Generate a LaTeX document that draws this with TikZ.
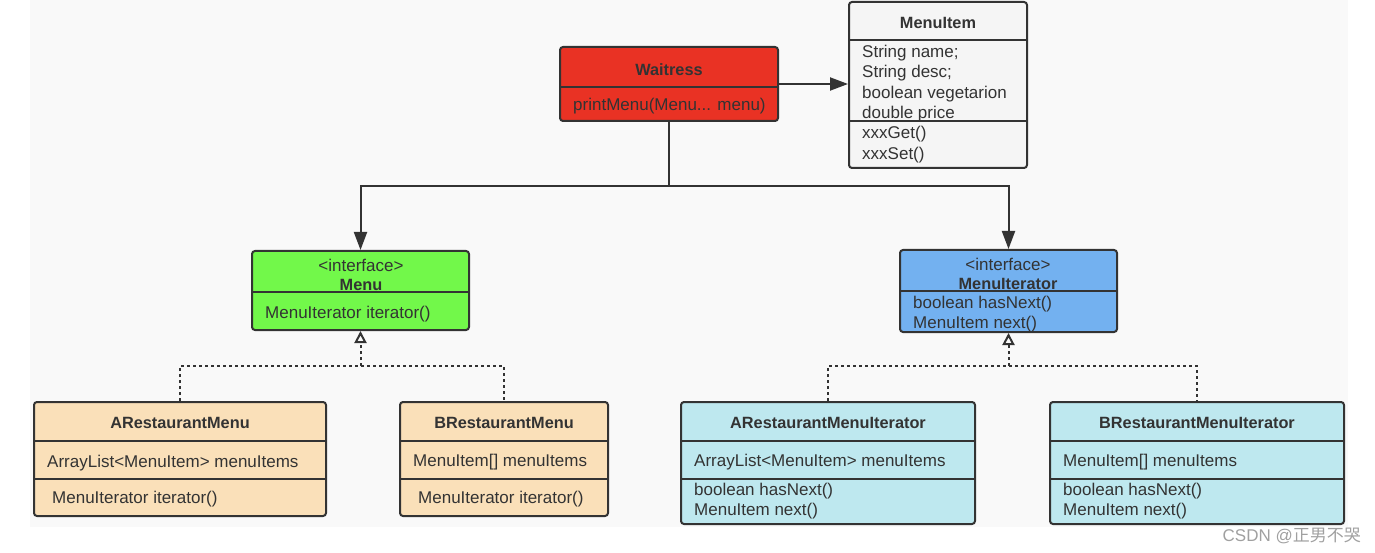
\documentclass[tikz,border=0pt]{standalone}
\usepackage{fontspec}
\setmainfont{Liberation Sans}
\newfontfamily\cjk{Noto Sans CJK SC}
\usetikzlibrary{arrows.meta}
\definecolor{bggray}{RGB}{249,249,249}
\definecolor{linegray}{RGB}{51,51,51}
\definecolor{txtgray}{RGB}{51,51,51}
\definecolor{wred}{RGB}{233,50,36}
\definecolor{mgreen}{RGB}{114,248,74}
\definecolor{iblue}{RGB}{115,177,240}
\definecolor{itgray}{RGB}{245,245,245}
\definecolor{peach}{RGB}{250,224,185}
\definecolor{cyanish}{RGB}{190,232,239}
\definecolor{wmgray}{RGB}{160,160,160}
\tikzset{>={Triangle[length=18pt,width=13pt]},font=\fontsize{17pt}{20pt}\selectfont,
  cls/.style={draw=linegray,line width=2pt,rounded corners=3pt,inner sep=0pt},
  ttl/.style={font=\fontsize{16.3pt}{19pt}\selectfont\bfseries,text=txtgray,inner sep=0pt},
  txt/.style={anchor=west,text=txtgray,inner sep=0pt},
  divider/.style={draw=linegray,line width=2pt},
  assoc/.style={draw=linegray,line width=2pt,->},
  realize/.style={draw=linegray,line width=2pt,dash pattern=on 3pt off 3pt}}

\begin{document}
\begin{tikzpicture}[x=1pt,y=-1pt]
\useasboundingbox (0,0) rectangle (1375,553);
\fill[bggray] (30,0) rectangle (1348,527);
% class boxes
\node[cls,fill=wred,minimum width=218pt,minimum height=74pt] (W) at (669,84) {};
\node[cls,fill=itgray,minimum width=178pt,minimum height=166pt] (MI) at (938,85) {};
\node[cls,fill=mgreen,minimum width=217pt,minimum height=79pt] (M) at (360.5,290.5) {};
\node[cls,fill=iblue,minimum width=217pt,minimum height=82pt] (IT) at (1008.5,291) {};
\node[cls,fill=peach,minimum width=292pt,minimum height=114pt] (AM) at (180,459) {};
\node[cls,fill=peach,minimum width=208pt,minimum height=114pt] (BM) at (504,459) {};
\node[cls,fill=cyanish,minimum width=294pt,minimum height=122pt] (AI) at (828,463) {};
\node[cls,fill=cyanish,minimum width=294pt,minimum height=122pt] (BI) at (1197,463) {};
% dividers
\draw[divider] (W.west |- 0,87) -- (W.east |- 0,87);
\draw[divider] (MI.west |- 0,40) -- (MI.east |- 0,40);
\draw[divider] (MI.west |- 0,121) -- (MI.east |- 0,121);
\draw[divider] (M.west |- 0,292) -- (M.east |- 0,292);
\draw[divider] (IT.west |- 0,291) -- (IT.east |- 0,291);
\foreach \b in {AM,BM,AI,BI} {
  \draw[divider] (\b.west |- 0,441) -- (\b.east |- 0,441);
  \draw[divider] (\b.west |- 0,479) -- (\b.east |- 0,479);
}
% texts
\node[ttl] (Wt) at (669,70) {Waitress};
\node[txt] (Wm) at (573,106) {printMenu(Menu... menu)};
\node[ttl] (MIt) at (938,23) {MenuItem};
\node[txt] (MIa) at (862,53) {String name;};
\node[txt] (MIb) at (862,73) {String desc;};
\node[txt] (MIc) at (862,94) {boolean vegetarion};
\node[txt] (MId) at (862,114) {double price};
\node[txt] (MIe) at (862,134) {xxxGet()};
\node[txt] (MIf) at (862,155) {xxxSet()};
\node[text=txtgray,inner sep=0pt] (Ms) at (361,265) {<interface>};
\node[ttl] (Mt) at (361,285) {Menu};
\node[txt] (Mm) at (265,314) {MenuIterator iterator()};
\node[text=txtgray,inner sep=0pt] (ITs) at (1008,264) {<interface>};
\node[ttl] (ITt) at (1008,284) {MenuIterator};
\node[txt] (ITa) at (913,304) {boolean hasNext()};
\node[txt] (ITb) at (913,324) {MenuItem next()};
\node[ttl] (AMt) at (180,423) {ARestaurantMenu};
\node[txt] (AMa) at (47,463) {ArrayList<MenuItem> menuItems};
\node[txt] (AMm) at (52,499) {MenuIterator iterator()};
\node[ttl] (BMt) at (504,423) {BRestaurantMenu};
\node[txt] (BMa) at (413,462) {MenuItem[] menuItems};
\node[txt] (BMm) at (418,499) {MenuIterator iterator()};
\node[ttl] (AIt) at (828,423) {ARestaurantMenuIterator};
\node[txt] (AIa) at (694,462) {ArrayList<MenuItem> menuItems};
\node[txt] (AIb) at (694,491) {boolean hasNext()};
\node[txt] (AIc) at (694,511) {MenuItem next()};
\node[ttl] (BIt) at (1197,423) {BRestaurantMenuIterator};
\node[txt] (BIa) at (1063,462) {MenuItem[] menuItems};
\node[txt] (BIb) at (1063,491) {boolean hasNext()};
\node[txt] (BIc) at (1063,511) {MenuItem next()};
% associations
\draw[assoc] (W.east) -- (W.east -| MI.west);
\coordinate (S) at (669,186);
\draw[divider] (W.south) -- (S);
\draw[assoc] (S) -| (M.north);
\draw[assoc] (S) -| (IT.north);
% realizations
\coordinate (JM) at (M.south |- 0,366);
\coordinate (JI) at (IT.south |- 0,366);
\draw[realize] (AM.north) |- (JM) -| (BM.north);
\draw[realize] (AI.north) |- (JI) -| (BI.north);
\draw[realize,-{Triangle[open,length=12pt,width=12pt,fill=bggray]}] (JM) -- (M.south);
\draw[realize,-{Triangle[open,length=12pt,width=12pt,fill=bggray]}] (JI) -- (IT.south);
% watermark
\node[text=wmgray,anchor=east,inner sep=0pt] (wm) at (1361,536) {CSDN @{\cjk 正男不哭}};
\end{tikzpicture}
\end{document}
